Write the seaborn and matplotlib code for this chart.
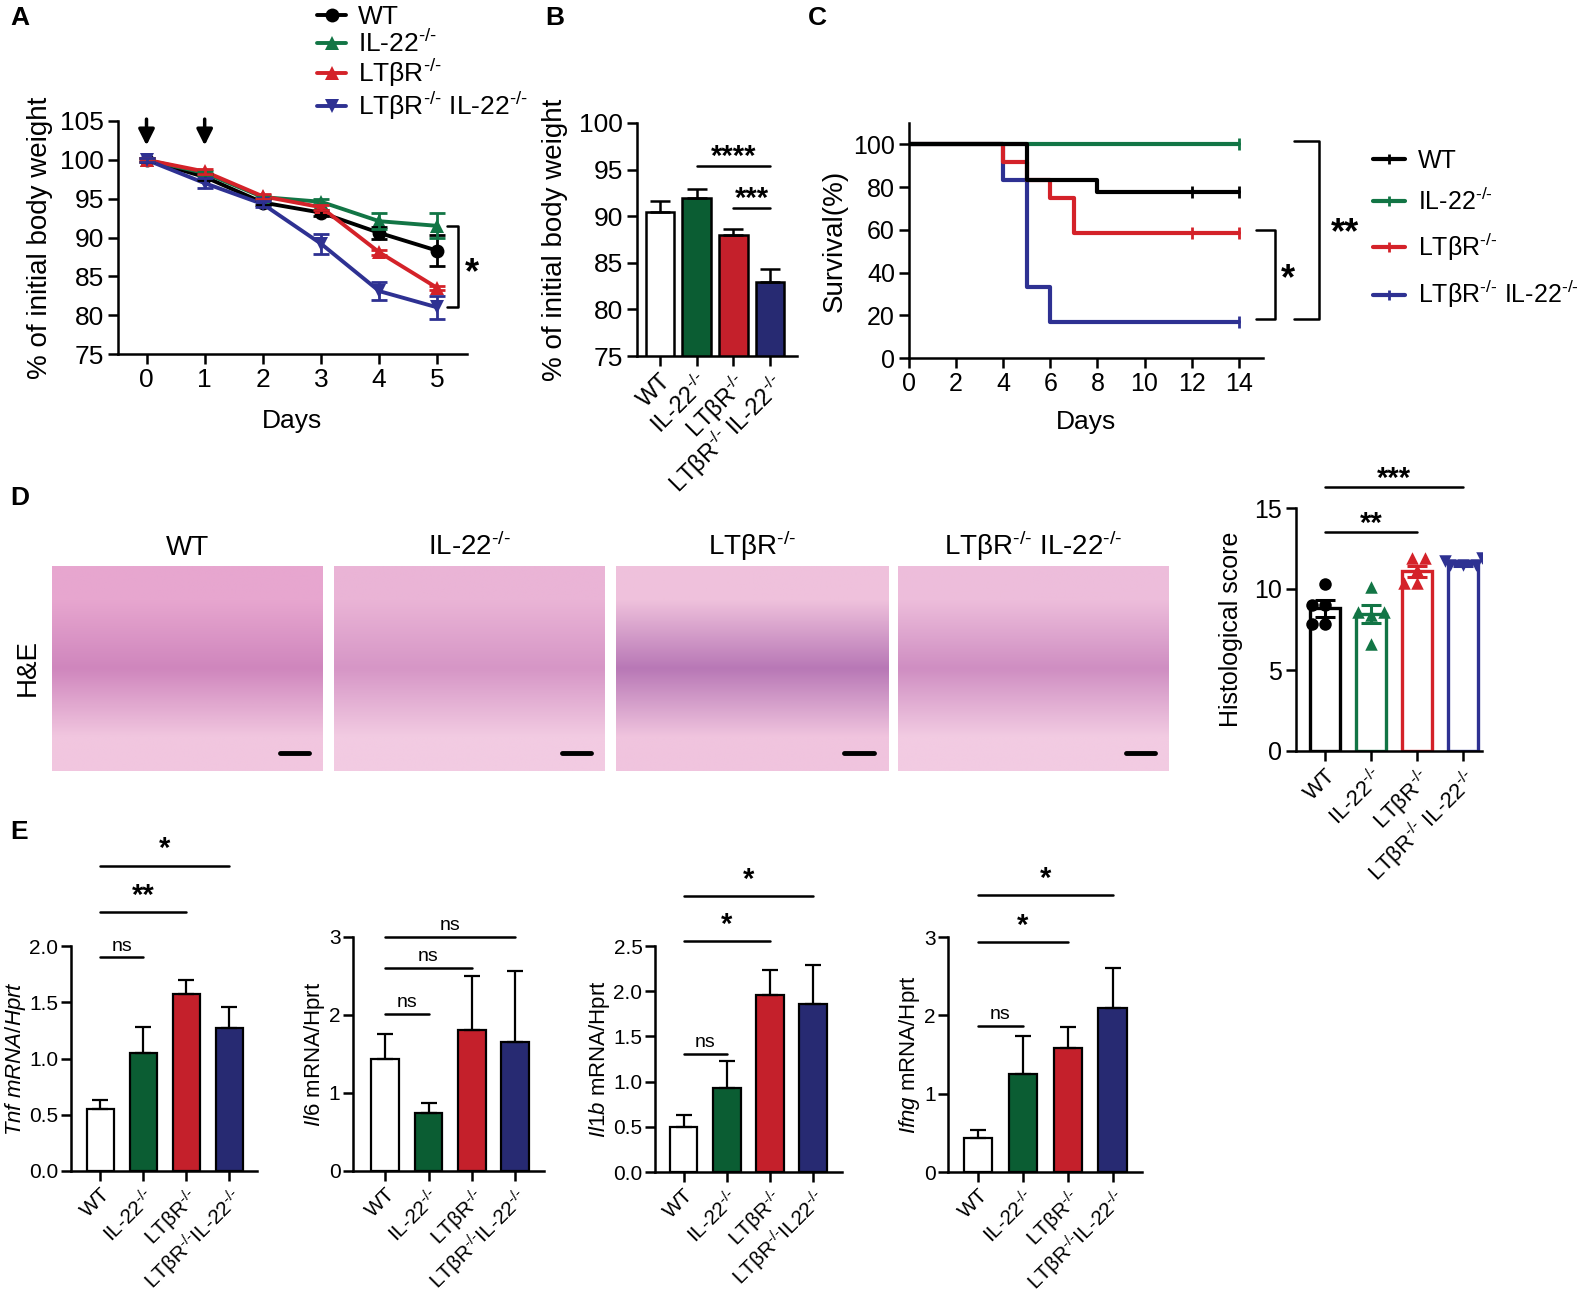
import numpy as np
import pandas as pd
import seaborn as sns
import matplotlib.pyplot as plt
from matplotlib.lines import Line2D

W, H = 1581, 1301

# ---- data ----
groups = ['WT', 'IL-22', 'LTbR', 'DKO']
SUP = r'$^{\text{-/-}}$'
lab_sp = ['WT', 'IL-22' + SUP, 'LTβR' + SUP, 'LTβR' + SUP + ' IL-22' + SUP]
lab_ns = ['WT', 'IL-22' + SUP, 'LTβR' + SUP, 'LTβR' + SUP + 'IL-22' + SUP]
lab_il1b = ['WT', 'IL-22' + SUP, 'LTβR' + SUP, 'LTβR' + SUP + 'IL22' + SUP]

days = [0, 1, 2, 3, 4, 5]
wt_weight = [100, 97.8, 94.5, 93.2, 90.6, 88.3]
wt_sem = [0.3, 0.4, 0.3, 0.4, 0.8, 2.0]
il22_weight = [100, 98.3, 95.2, 94.6, 92.1, 91.5]
il22_sem = [0.2, 0.3, 0.3, 0.3, 1.0, 1.6]
ltbr_weight = [100, 98.5, 95.3, 93.9, 88.1, 83.5]
ltbr_sem = [0.2, 0.3, 0.3, 0.3, 0.3, 0.3]
dko_weight = [100, 97.0, 94.3, 89.2, 83.1, 81.0]
dko_sem = [0.3, 0.6, 0.4, 1.3, 1.2, 1.5]

day5_mean = [90.4, 91.9, 88.0, 82.9]
day5_sem = [1.2, 1.0, 0.6, 1.4]

wt_t, wt_s = [0, 5, 8, 14], [100, 83.3, 77.8, 77.8]
il22_t, il22_s = [0, 14], [100, 100]
ltbr_t, ltbr_s = [0, 4, 5, 6, 7, 14], [100, 91.7, 83.3, 75, 58.3, 58.3]
dko_t, dko_s = [0, 4, 5, 6, 14], [100, 83.3, 33.3, 16.7, 16.7]
wt_cens, il22_cens, ltbr_cens, dko_cens = [12, 14], [14], [12, 14], [14]

wt_score = [10.3, 9.0, 9.0, 7.85, 7.85]
il22_score = [10.1, 8.6, 8.6, 8.4, 6.6]
ltbr_score = [11.9, 11.9, 11.2, 10.4, 10.4]
dko_score = [11.9, 11.7, 11.5, 11.5, 11.5]
score_mean = [8.8, 8.45, 11.1, 11.6]
score_sem = [0.5, 0.55, 0.35, 0.15]

tnf_mean, tnf_sem = [0.55, 1.05, 1.57, 1.27], [0.08, 0.23, 0.13, 0.19]
il6_mean, il6_sem = [1.43, 0.75, 1.81, 1.65], [0.33, 0.12, 0.69, 0.92]
il1b_mean, il1b_sem = [0.50, 0.93, 1.96, 1.86], [0.13, 0.30, 0.28, 0.43]
ifng_mean, ifng_sem = [0.43, 1.25, 1.58, 2.10], [0.11, 0.49, 0.27, 0.51]

tnf_sig = [(0, 1, 1.90, 'ns'), (0, 2, 2.30, '**'), (0, 3, 2.71, '*')]
il6_sig = [(0, 1, 2.01, 'ns'), (0, 2, 2.60, 'ns'), (0, 3, 3.0, 'ns')]
il1b_sig = [(0, 1, 1.31, 'ns'), (0, 2, 2.55, '*'), (0, 3, 3.05, '*')]
ifng_sig = [(0, 1, 1.87, 'ns'), (0, 2, 2.93, '*'), (0, 3, 3.53, '*')]

he_colors = [['#e7a6cf', '#cf86bd', '#f1c6df'],
             ['#eab4d6', '#d696c6', '#f2cbe2'],
             ['#efc1dc', '#b878b6', '#f0c4de'],
             ['#edbddb', '#cf8ec2', '#f2cbe2']]
he_titles = lab_sp

# colours
bar_cols = ['white', '#0b5d33', '#c4202b', '#272a72']
line_cols = ['black', '#127545', '#d42229', '#2e3192']

sns.set_theme(style="ticks")
plt.rcParams['font.family'] = ['Liberation Sans', 'DejaVu Sans']
plt.rcParams['mathtext.fontset'] = 'custom'
plt.rcParams['mathtext.rm'] = 'Liberation Sans'
plt.rcParams['mathtext.it'] = 'Liberation Sans:italic'
plt.rcParams['mathtext.bf'] = 'Liberation Sans:bold'
plt.rcParams['axes.linewidth'] = 1.8
plt.rcParams['axes.edgecolor'] = 'black'
plt.rcParams['xtick.color'] = 'black'
plt.rcParams['ytick.color'] = 'black'
plt.rcParams['text.color'] = 'black'
plt.rcParams['axes.labelcolor'] = 'black'

fig = plt.figure(figsize=(W / 100, H / 100), dpi=100)


def add_ax(l, t, r, b):
    return fig.add_axes([l / W, 1 - b / H, (r - l) / W, (b - t) / H])


def style(ax, fs):
    sns.despine(ax=ax)
    ax.tick_params(width=1.8, length=7, labelsize=fs, pad=3)


def sig(ax, i, j, y, label, dy, fs):
    ax.plot([i, j], [y, y], color='black', lw=1.8, clip_on=False)
    if label == 'ns':
        ax.text((i + j) / 2, y + dy, label, ha='center', va='bottom', fontsize=fs, clip_on=False)
    else:
        ax.text((i + j) / 2, y + dy, label, ha='center', va='bottom', fontsize=fs + 7,
                fontweight='bold', clip_on=False)


def letter(x, y, s):
    fig.text(x / W, 1 - y / H, s, fontsize=19, fontweight='bold', va='center', ha='left')


# ---- A ----
axA = add_ax(118, 121, 467, 354)
dfA = pd.DataFrame({'day': days * 4,
                    'weight': wt_weight + il22_weight + ltbr_weight + dko_weight,
                    'group': [g for g in groups for _ in days]})
sns.lineplot(data=dfA, x='day', y='weight', hue='group', style='group', palette=line_cols,
             markers={'WT': 'o', 'IL-22': '^', 'LTbR': '^', 'DKO': 'v'}, dashes=False,
             markersize=10, markeredgewidth=0, linewidth=2.8, legend=False, ax=axA)
for w, e, c in zip([wt_weight, il22_weight, ltbr_weight, dko_weight],
                   [wt_sem, il22_sem, ltbr_sem, dko_sem], line_cols):
    axA.errorbar(days, w, yerr=e, fmt='none', ecolor=c, elinewidth=2, capsize=6, capthick=2)
axA.set_xlim(-0.49, 5.51)
axA.set_ylim(75, 105)
axA.set_yticks([75, 80, 85, 90, 95, 100, 105])
axA.set_xticks(days)
style(axA, 19)
axA.set_xlabel('Days', fontsize=19, labelpad=12)
axA.set_ylabel('% of initial body weight', fontsize=20, labelpad=5)
for d in [0, 1]:
    axA.annotate('', xy=(d, 101.5), xytext=(d, 105.6), annotation_clip=False,
                 arrowprops=dict(arrowstyle='-|>', lw=2.5, color='black', mutation_scale=24))
axA.plot([5.16, 5.36, 5.36, 5.16], [91.5, 91.5, 81.0, 81.0], color='black', lw=1.8, clip_on=False)
axA.text(5.59, 85.3, '*', fontsize=26, fontweight='bold', ha='center', va='center')
handles = [Line2D([0], [0], color=c, marker=m, lw=2.8, ms=10, mew=0)
           for c, m in zip(line_cols, ['o', '^', '^', 'v'])]
fig.legend(handles, lab_sp, loc='upper left', bbox_to_anchor=(304 / W, 1 + 8 / H), frameon=False,
           fontsize=19, handlelength=1.1, handletextpad=0.45, labelspacing=0.02, borderpad=0)
letter(10, 18, 'A')

# ---- B ----
axB = add_ax(637, 123, 797, 356)
sns.barplot(x=lab_sp, y=day5_mean, hue=lab_sp, palette=bar_cols, legend=False, saturation=1,
            width=0.78, edgecolor='black', linewidth=1.8, ax=axB)
for i, (m, e) in enumerate(zip(day5_mean, day5_sem)):
    axB.errorbar(i, m, yerr=[[0], [e]], fmt='none', ecolor='black', elinewidth=1.8, capsize=7, capthick=1.8)
axB.set_ylim(75, 100)
axB.set_xlim(-0.63, 3.74)
axB.set_yticks([75, 80, 85, 90, 95, 100])
style(axB, 19)
axB.set_xticks(range(4))
axB.set_xticklabels(lab_sp, rotation=45, ha='right', rotation_mode='anchor', fontsize=17)
axB.set_ylabel('% of initial body weight', fontsize=20, labelpad=8)
sig(axB, 1, 3, 95.4, '****', -0.5, 14)
sig(axB, 2, 3, 90.9, '***', -0.5, 14)
letter(545, 18, 'B')

# ---- C ----
axC = add_ax(909, 123, 1263, 358)
for t, s, c in zip([il22_t, dko_t, ltbr_t, wt_t], [il22_s, dko_s, ltbr_s, wt_s],
                   [line_cols[1], line_cols[3], line_cols[2], line_cols[0]]):
    sns.lineplot(x=t, y=s, color=c, drawstyle='steps-post', lw=3, ax=axC)
for cx, cy, c in zip([wt_cens, il22_cens, ltbr_cens, dko_cens], [77.8, 100, 58.3, 16.7], line_cols):
    axC.plot(cx, [cy] * len(cx), marker='|', ls='none', ms=8, mew=2, color=c)
axC.set_xlim(0, 15.03)
axC.set_ylim(0, 110)
axC.set_xticks(range(0, 15, 2))
axC.set_yticks(range(0, 101, 20))
style(axC, 18)
axC.set_xlabel('Days', fontsize=19, labelpad=10)
axC.set_ylabel('Survival(%)', fontsize=20, labelpad=4)
axC.plot([14.75, 15.53, 15.53, 14.75], [59.8, 59.8, 18.3, 18.3], color='black', lw=1.8, clip_on=False)
axC.text(16.1, 36.5, '*', fontsize=26, fontweight='bold', ha='center', va='center')
axC.plot([16.33, 17.4, 17.4, 16.33], [101.5, 101.5, 18.3, 18.3], color='black', lw=1.8, clip_on=False)
axC.text(18.5, 58, '**', fontsize=26, fontweight='bold', ha='center', va='center')
handlesC = [Line2D([0], [0], color=c, lw=3, marker='|', ms=7, mew=2) for c in line_cols]
fig.legend(handlesC, lab_sp, loc='upper left', bbox_to_anchor=(1360 / W, 1 - 136 / H),
           frameon=False, fontsize=18, handlelength=1.3, handletextpad=0.5,
           labelspacing=0.62, borderpad=0)
letter(808, 18, 'C')

# ---- D images ----
img_x = [(52, 323), (334, 605), (616, 888), (898, 1169)]
for (l, r), cols, title in zip(img_x, he_colors, he_titles):
    axI = add_ax(l, 566, r, 771)
    arr = np.array([[list(int(c[k:k + 2], 16) / 255 for k in (1, 3, 5))] for c in cols])
    axI.imshow(arr, aspect='auto', interpolation='bilinear', extent=[0, 1, 0, 1])
    axI.plot([0.84, 0.95], [0.09, 0.09], color='black', lw=3.5)
    axI.set_xlim(0, 1)
    axI.set_ylim(0, 1)
    axI.axis('off')
    axI.set_title(title, fontsize=20, pad=8)
fig.text(28 / W, 1 - 668 / H, 'H&E', fontsize=20, rotation=90, ha='center', va='center')
letter(10, 498, 'D')

# ---- D score ----
axD = add_ax(1296, 508, 1482, 751)
sns.barplot(x=lab_sp, y=score_mean, hue=lab_sp, palette=line_cols, legend=False, saturation=1,
            width=0.64, fill=False, linewidth=2.4, ax=axD)
for i, (pts, c, m) in enumerate(zip([wt_score, il22_score, ltbr_score, dko_score], line_cols,
                                    ['o', '^', '^', 'v'])):
    sns.swarmplot(x=[lab_sp[i]] * len(pts), y=pts, order=lab_sp, color=c, marker=m, size=9,
                  linewidth=0, ax=axD, legend=False)
    axD.errorbar(i, score_mean[i], yerr=score_sem[i], fmt='none', ecolor=c, elinewidth=2.2,
                 capsize=7, capthick=2.2)
axD.set_ylim(0, 15)
axD.set_xlim(-0.63, 3.41)
axD.set_yticks([0, 5, 10, 15])
style(axD, 18)
axD.set_xticks(range(4))
axD.set_xticklabels(lab_sp, rotation=45, ha='right', rotation_mode='anchor', fontsize=16)
axD.set_xlabel('')
axD.set_ylabel('Histological score', fontsize=18, labelpad=8)
sig(axD, 0, 3, 16.3, '***', -0.35, 14)
sig(axD, 0, 2, 13.5, '**', -0.35, 14)

# ---- E ----
e_specs = [
    (71, 257, 946, 1171, 2.0, [0, 0.5, 1.0, 1.5, 2.0], '{:.1f}', tnf_mean, tnf_sem, tnf_sig, lab_ns,
     r'$\mathit{Tnf\ mRNA/Hprt}$', (-0.68, 3.64)),
    (353, 544, 937, 1171, 3.0, [0, 1, 2, 3], '{:.0f}', il6_mean, il6_sem, il6_sig, lab_ns,
     r'$\mathit{Il6}$ mRNA/Hprt', (-0.74, 3.66)),
    (655, 842, 946, 1172, 2.5, [0, 0.5, 1.0, 1.5, 2.0, 2.5], '{:.1f}', il1b_mean, il1b_sem, il1b_sig,
     lab_il1b, r'$\mathit{Il1b}$ mRNA/Hprt', (-0.66, 3.67)),
    (948, 1142, 937, 1172, 3.0, [0, 1, 2, 3], '{:.0f}', ifng_mean, ifng_sem, ifng_sig, lab_ns,
     r'$\mathit{Ifng}$ mRNA/Hprt', (-0.67, 3.65)),
]
for l, r, top, bot, ymax, yt, fmt, mean, sem, sigs, labs, ylab, xl in e_specs:
    ax = add_ax(l, top, r, bot)
    sns.barplot(x=labs, y=mean, hue=labs, palette=bar_cols, legend=False, saturation=1,
                width=0.64, edgecolor='black', linewidth=1.6, ax=ax)
    for i, (m, e) in enumerate(zip(mean, sem)):
        ax.errorbar(i, m, yerr=[[0], [e]], fmt='none', ecolor='black', elinewidth=1.6,
                    capsize=6, capthick=1.6)
    ax.set_ylim(0, ymax)
    ax.set_xlim(*xl)
    ax.set_yticks(yt)
    ax.set_yticklabels([fmt.format(v) for v in yt])
    style(ax, 15)
    ax.tick_params(axis='y', pad=2)
    ax.set_xticks(range(4))
    ax.set_xticklabels(labs, rotation=45, ha='right', rotation_mode='anchor', fontsize=15)
    ax.set_ylabel(ylab, fontsize=16, labelpad=1)
    for i, j, y, s in sigs:
        sig(ax, i, j, y, s, ymax * 0.012, 14)
letter(10, 832, 'E')

fig.savefig('out.png', dpi=100)
